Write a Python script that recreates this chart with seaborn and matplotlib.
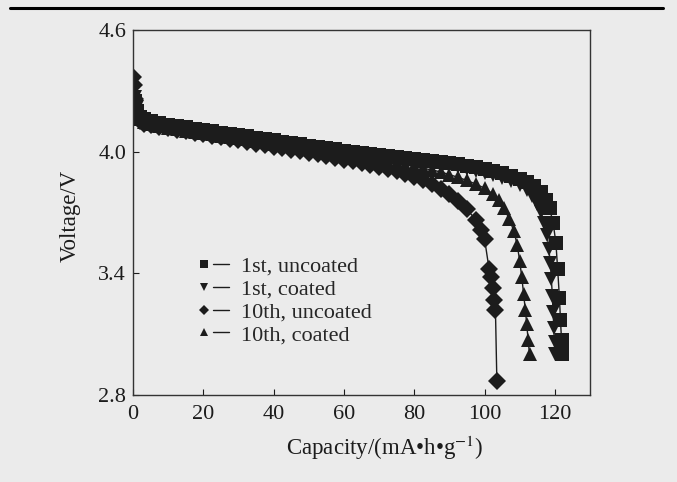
import matplotlib
matplotlib.use("Agg")
import matplotlib.pyplot as plt
from matplotlib.lines import Line2D
from matplotlib.legend_handler import HandlerTuple
import seaborn as sns
import pandas as pd

# discharge curves: capacity (mA*h/g) vs voltage (V)
cap_1st_uncoated = [0.5, 1, 2, 3, 5, 7.5, 10, 12.5, 15, 17.5, 20, 22.5, 25, 27.5, 30, 32.5, 35,
                    37.5, 40, 42.5, 45, 47.5, 50, 52.5, 55, 57.5, 60, 62.5, 65, 67.5, 70, 72.5,
                    75, 77.5, 80, 82.5, 85, 87.5, 90, 92.5, 95, 97.5, 100, 102.5, 105, 107.5, 110,
                    112, 114, 116, 117.5, 118.5, 119.5, 120.3, 120.8, 121.3, 121.6, 121.9, 122.0, 122.1]
volt_1st_uncoated = [4.25, 4.20, 4.17, 4.16, 4.15, 4.14, 4.13, 4.125, 4.12, 4.11, 4.105, 4.10, 4.093,
                     4.087, 4.08, 4.075, 4.068, 4.062, 4.055, 4.05, 4.043, 4.037, 4.03, 4.025, 4.018,
                     4.012, 4.005, 4.00, 3.995, 3.99, 3.985, 3.98, 3.975, 3.97, 3.965, 3.96, 3.955,
                     3.95, 3.945, 3.94, 3.93, 3.923, 3.915, 3.905, 3.895, 3.88, 3.865,
                     3.85, 3.83, 3.80, 3.76, 3.72, 3.65, 3.55, 3.42, 3.28, 3.17, 3.07, 3.03, 3.00]

cap_1st_coated = [0.5, 1, 2, 3, 5, 7.5, 10, 12.5, 15, 17.5, 20, 22.5, 25, 27.5, 30, 32.5, 35,
                  37.5, 40, 42.5, 45, 47.5, 50, 52.5, 55, 57.5, 60, 62.5, 65, 67.5, 70, 72.5,
                  75, 77.5, 80, 82.5, 85, 87.5, 90, 92.5, 95, 97.5, 100, 102.5, 105, 107.5, 110,
                  112, 113.5, 115, 116, 117, 117.8, 118.3, 118.7, 119.0, 119.3, 119.5, 119.7, 119.9, 120.0]
volt_1st_coated = [4.27, 4.22, 4.16, 4.15, 4.14, 4.13, 4.12, 4.115, 4.108, 4.10, 4.095, 4.09, 4.083,
                   4.077, 4.07, 4.065, 4.058, 4.052, 4.045, 4.04, 4.033, 4.027, 4.02, 4.015, 4.008,
                   4.002, 3.995, 3.99, 3.985, 3.98, 3.975, 3.97, 3.965, 3.96, 3.955, 3.95, 3.945,
                   3.938, 3.93, 3.922, 3.913, 3.905, 3.895, 3.885, 3.87, 3.855, 3.835,
                   3.81, 3.78, 3.74, 3.70, 3.65, 3.59, 3.52, 3.45, 3.37, 3.29, 3.21, 3.13, 3.06, 3.00]

cap_10th_uncoated = [0, 0.3, 0.7, 1.2, 2, 3, 5, 7.5, 10, 12.5, 15, 17.5, 20, 22.5, 25, 27.5, 30,
                     32.5, 35, 37.5, 40, 42.5, 45, 47.5, 50, 52.5, 55, 57.5, 60, 62.5, 65, 67.5,
                     70, 72.5, 75, 77.5, 80, 82.5, 85, 87.5, 90, 92.5, 95, 97.5, 99, 100,
                     101.3, 101.8, 102.3, 102.8, 103.1, 103.5]
volt_10th_uncoated = [4.37, 4.33, 4.26, 4.19, 4.15, 4.135, 4.13, 4.12, 4.115, 4.107, 4.10, 4.092,
                      4.085, 4.077, 4.07, 4.062, 4.055, 4.047, 4.04, 4.032, 4.025, 4.017, 4.01,
                      4.002, 3.995, 3.987, 3.978, 3.97, 3.96, 3.952, 3.943, 3.934, 3.925, 3.915,
                      3.905, 3.892, 3.875, 3.858, 3.84, 3.815, 3.79, 3.755, 3.715, 3.665, 3.615, 3.57,
                      3.42, 3.38, 3.33, 3.27, 3.22, 2.87]

cap_10th_coated = [0.5, 1, 2, 3, 5, 7.5, 10, 12.5, 15, 17.5, 20, 22.5, 25, 27.5, 30, 32.5, 35,
                   37.5, 40, 42.5, 45, 47.5, 50, 52.5, 55, 57.5, 60, 62.5, 65, 67.5, 70, 72.5,
                   75, 77.5, 80, 82.5, 85, 87.5, 90, 92.5, 95, 97.5, 100,
                   102.5, 104, 105.5, 107, 108.3, 109.3, 110, 110.6, 111.1, 111.6, 112, 112.4, 112.8]
volt_10th_coated = [4.26, 4.21, 4.16, 4.145, 4.135, 4.125, 4.115, 4.11, 4.103, 4.095, 4.09, 4.085,
                    4.078, 4.072, 4.065, 4.06, 4.053, 4.047, 4.04, 4.033, 4.027, 4.02, 4.013, 4.007,
                    4.00, 3.993, 3.985, 3.978, 3.972, 3.965, 3.958, 3.95, 3.943, 3.935, 3.927,
                    3.918, 3.91, 3.9, 3.887, 3.873, 3.858, 3.84, 3.82,
                    3.79, 3.76, 3.72, 3.67, 3.61, 3.54, 3.46, 3.38, 3.30, 3.22, 3.15, 3.07, 3.00]

series_names = ["1st, uncoated", "1st, coated", "10th, uncoated", "10th, coated"]
x_ticks = [0, 20, 40, 60, 80, 100, 120]
y_ticks = [2.8, 3.4, 4.0, 4.6]

frames = []
for name, c, v in zip(series_names,
                      [cap_1st_uncoated, cap_1st_coated, cap_10th_uncoated, cap_10th_coated],
                      [volt_1st_uncoated, volt_1st_coated, volt_10th_uncoated, volt_10th_coated]):
    frames.append(pd.DataFrame({"capacity": c, "voltage": v, "series": name}))
df = pd.concat(frames, ignore_index=True)

markers = {"1st, uncoated": "s", "1st, coated": "v", "10th, uncoated": "D", "10th, coated": "^"}
ink = "#1c1c1c"
bg = "#ebebeb"

sns.set_theme(style="ticks")
plt.rcParams["font.family"] = ["Liberation Serif", "DejaVu Serif"]
plt.rcParams["mathtext.fontset"] = "stix"

fig = plt.figure(figsize=(6.77, 4.82), dpi=100, facecolor=bg)
ax = fig.add_axes([0.1965, 0.1805, 0.675, 0.7573])
ax.set_facecolor(bg)

sns.lineplot(data=df, x="capacity", y="voltage", hue="series", style="series",
             markers=markers, dashes=False, palette={n: ink for n in series_names},
             estimator=None, sort=False, markersize=9.5, markeredgewidth=0,
             linewidth=1.0, legend=False, ax=ax)

ax.set_xlim(0, 130)
ax.set_ylim(2.8, 4.6)
ax.set_xticks(x_ticks)
ax.set_yticks(y_ticks)
ax.set_yticklabels([f"{t:.1f}" for t in y_ticks])
ax.tick_params(direction="in", length=4, width=0.8, colors=ink, labelsize=16)
ax.tick_params(axis="x", pad=7)
ax.tick_params(axis="y", pad=5)
for s in ax.spines.values():
    s.set_color("#333333")
    s.set_linewidth(1.0)
ax.set_xlabel("Capacity/(mA\u2022h\u2022g$^{-1}$)", fontsize=16.5, color=ink)
ax.set_ylabel("Voltage/V", fontsize=16.5, color=ink)
ax.xaxis.set_label_coords(0.55, -0.105)
ax.yaxis.set_label_coords(-0.115, 0.49)

# legend: marker followed by a short line, as in the original
handles = [(Line2D([], [], marker=markers[n], ls="none", color=ink, ms=5.5, mew=0),
            Line2D([], [], color=ink, lw=1.0)) for n in series_names]
ax.legend(handles, series_names, handler_map={tuple: HandlerTuple(ndivide=None, pad=0)},
          loc="upper left", bbox_to_anchor=(0.138, 0.38), frameon=False, fontsize=16,
          handlelength=1.5, handletextpad=0.5, labelspacing=0.1, borderpad=0, borderaxespad=0)

# thick rule across the top of the scanned page
fig.add_artist(Line2D([0.015, 0.98], [0.983, 0.983], transform=fig.transFigure,
                      color="black", lw=2.2))

fig.savefig("out.png", dpi=100, facecolor=bg)
